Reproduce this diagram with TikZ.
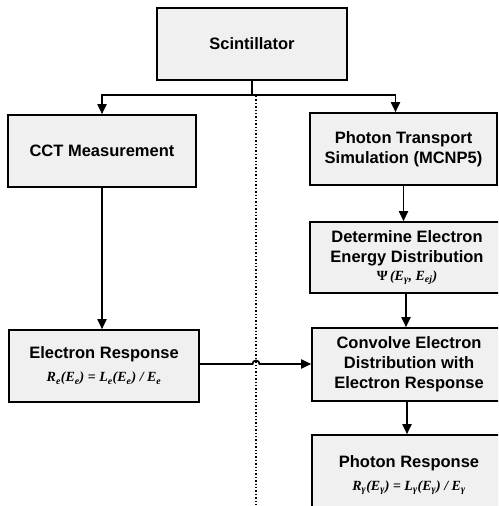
\documentclass[tikz,border=0pt]{standalone}
\usepackage{fontspec}
\setmainfont{Liberation Sans}
\newfontfamily\frm{Liberation Serif}
\usetikzlibrary{arrows.meta,calc}
\newcommand{\sbs}[1]{\textsubscript{#1}}
\newcommand{\fml}[1]{{\fontsize{14}{16}\selectfont\frm\bfseries\itshape #1}}
\begin{document}
\begin{tikzpicture}[x=1pt,y=-1pt,
  box/.style={draw=black, line width=1.6pt, fill=black!6, align=center, inner sep=0pt,
    font=\fontsize{16.5}{20}\selectfont\bfseries},
  arr/.style={line width=1.8pt, -{Triangle[length=10pt,width=9pt]}},
  ln/.style={line width=1.8pt},
  dots/.style={line width=1.4pt, dash pattern=on 1.4pt off 2pt}
]
\useasboundingbox (0,0) rectangle (498,506);
\clip (0,0) rectangle (498,506);

\node[box, minimum width=190, minimum height=72] (scint) at (252,44) {Scintillator};
\node[box, minimum width=188, minimum height=72] (cct) at (102,151) {CCT Measurement};
\node[box, minimum width=187, minimum height=72] (pt) at (403.5,149) {Photon Transport\\Simulation (MCNP5)};
\node[box, minimum width=194, minimum height=71] (det) at (407,257.5) {Determine Electron\\Energy Distribution\\[-2pt]\fml{{\upshape Ψ\,}(E\sbs{γ}, E\sbs{ej})}};
\node[box, minimum width=190, minimum height=72] (er) at (104,366) {Electron Response\\[3pt]\fml{R\sbs{e}(E\sbs{e}) {\upshape =} L\sbs{e}(E\sbs{e}) / E\sbs{e}}};
\node[box, minimum width=194, minimum height=73] (conv) at (409,364.5) {Convolve Electron\\Distribution with\\Electron Response};
\node[box, minimum width=194, minimum height=80] (pr) at (409,475) {Photon Response\\[3pt]\fml{R\sbs{γ}(E\sbs{γ}) {\upshape =} L\sbs{γ}(E\sbs{γ}) / E\sbs{γ}}};

\coordinate (j) at ($(scint.south)+(0,14)$);
\coordinate (dtop) at (256,96);
\coordinate (dbot) at (256,506);
\coordinate (hopl) at (252.5,364);
\coordinate (hopr) at (259.5,364);

\draw[dots] (dtop) -- (dbot);
\draw[ln] (scint.south) -- (j);
\draw[arr] (j) -| (cct.north);
\draw[arr] (j) -| ([xshift=-8pt]pt.north);
\draw[arr] (cct.south) -- (cct.south |- er.north);
\draw[arr] (pt.south) -- (pt.south |- det.north);
\draw[arr] ([xshift=-1pt]det.south) -- ([xshift=-1pt]det.south |- conv.north);
\draw[arr] ([xshift=-2pt]conv.south) -- ([xshift=-2pt]conv.south |- pr.north);
\draw[arr] (er.east |- hopl) -- (hopl) arc (180:360:3.5) -- (conv.west |- hopr);
\end{tikzpicture}
\end{document}
